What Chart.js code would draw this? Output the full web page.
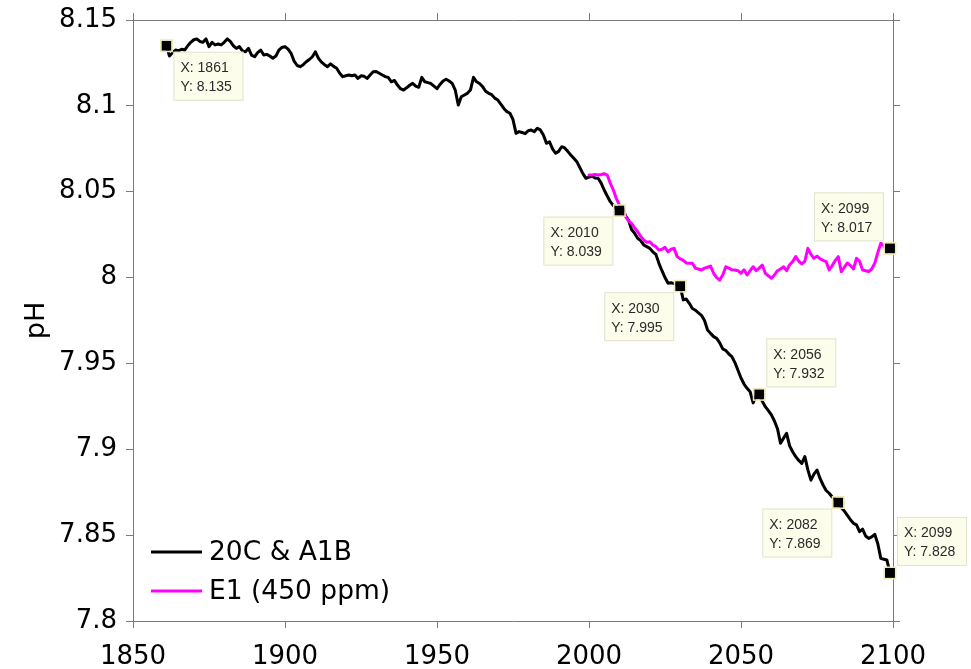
<!DOCTYPE html>
<html>
<head>
<meta charset="utf-8">
<script src="https://cdn.jsdelivr.net/npm/chart.js@4/dist/chart.umd.min.js"></script>
<style>
  html, body { margin: 0; padding: 0; background: #ffffff; }
  canvas { display: block; }
</style>
</head>
<body>
<canvas id="c" width="971" height="669"></canvas>
<script>
// Annual surface-ocean pH: 20th-century run continued with the A1B scenario
const startYear20C = 1861;
const ph20C = [
  8.135, 8.129, 8.131, 8.1325, 8.132, 8.133, 8.1325, 8.135, 8.137, 8.1385,
  8.139, 8.1375, 8.137, 8.139, 8.1345, 8.137, 8.1355, 8.136, 8.1355, 8.137,
  8.139, 8.1375, 8.135, 8.1335, 8.1345, 8.132, 8.1315, 8.1335, 8.1295, 8.1286,
  8.131, 8.1325, 8.1296, 8.130, 8.129, 8.1277, 8.129, 8.1325, 8.134, 8.1345,
  8.133, 8.1306, 8.126, 8.1235, 8.1228, 8.124, 8.1257, 8.127, 8.1286, 8.1315,
  8.1277, 8.1255, 8.124, 8.1228, 8.1245, 8.123, 8.1219, 8.119, 8.117, 8.1175,
  8.118, 8.1175, 8.118, 8.116, 8.1175, 8.1172, 8.116, 8.118, 8.1199, 8.120,
  8.119, 8.118, 8.117, 8.1165, 8.114, 8.1148, 8.1121, 8.110, 8.1092, 8.1105,
  8.112, 8.1131, 8.1115, 8.1108, 8.1166, 8.114, 8.1135, 8.113, 8.1115, 8.110,
  8.1125, 8.1145, 8.1155, 8.1145, 8.1131, 8.1092, 8.1005, 8.1053, 8.1063, 8.1073,
  8.1092, 8.1166, 8.114, 8.113, 8.1112, 8.1085, 8.1073, 8.1065, 8.1045, 8.1034,
  8.101, 8.0985, 8.0966, 8.0957, 8.092, 8.084, 8.085, 8.0845, 8.0838, 8.0855,
  8.0859, 8.085, 8.0869, 8.086, 8.083, 8.0782, 8.0791, 8.075, 8.0724, 8.0735,
  8.0762, 8.0755, 8.0735, 8.0714, 8.0695, 8.0675, 8.064, 8.0605, 8.0578, 8.0585,
  8.059, 8.058, 8.0578, 8.055, 8.051, 8.0475, 8.0442, 8.042, 8.040, 8.039,
  8.0413, 8.036, 8.0335, 8.028, 8.0258, 8.0229, 8.0215, 8.019, 8.018, 8.017,
  8.015, 8.0135, 8.0083, 8.004, 8.000, 7.9967, 7.997, 7.9965, 7.9958, 7.995,
  7.987, 7.9875, 7.985, 7.982, 7.981, 7.9795, 7.978, 7.975, 7.9695, 7.9675,
  7.9656, 7.9646, 7.962, 7.9585, 7.9575, 7.9555, 7.954, 7.9505, 7.946, 7.9415,
  7.938, 7.9355, 7.9335, 7.927, 7.9315, 7.932, 7.928, 7.9248, 7.9225, 7.920,
  7.9165, 7.912, 7.9035, 7.9065, 7.9093, 7.902, 7.8986, 7.8957, 7.8935, 7.8918,
  7.8957, 7.888, 7.882, 7.8855, 7.8879, 7.883, 7.8792, 7.876, 7.8744, 7.8722,
  7.8705, 7.869, 7.866, 7.864, 7.8615, 7.859, 7.8569, 7.856, 7.852, 7.8535,
  7.8495, 7.8481, 7.849, 7.8505, 7.845, 7.8365, 7.836, 7.8355, 7.828
];

// Stabilisation experiment E1 (450 ppm), branching off in 2000
const startYearE1 = 2000;
const phE1 = [
  8.0597, 8.0597, 8.060, 8.0597, 8.060, 8.0605, 8.0597, 8.055, 8.051, 8.046,
  8.0423, 8.039, 8.0355, 8.033, 8.0316, 8.029, 8.0267, 8.024, 8.0219, 8.0205,
  8.0209, 8.019, 8.018, 8.016, 8.0165, 8.0176, 8.015, 8.0165, 8.017, 8.0122,
  8.011, 8.010, 8.0085, 8.0083, 8.0083, 8.0054, 8.005, 8.0044, 8.0055, 8.006,
  8.0067, 8.0025, 8.000, 7.9986, 8.0015, 8.0063, 8.0055, 8.0045, 8.0044, 8.004,
  8.0025, 8.0045, 8.0015, 8.004, 8.0063, 8.004, 8.0055, 8.0073, 8.0025, 8.001,
  7.9996, 8.0015, 8.004, 8.005, 8.0063, 8.004, 8.0075, 8.0093, 8.0122, 8.0095,
  8.008, 8.0095, 8.017, 8.0135, 8.0112, 8.0125, 8.011, 8.010, 8.0093, 8.0044,
  8.007, 8.010, 8.0122, 8.0034, 8.006, 8.0085, 8.007, 8.005, 8.0112, 8.0095,
  8.0044, 8.004, 8.0035, 8.005, 8.0083, 8.0145, 8.020, 8.0185, 8.015, 8.017
];

const seriesNames = ['20C & A1B', 'E1 (450 ppm)'];
const seriesColors = ['#000000', '#ff00ff'];

const xTicks = [1850, 1900, 1950, 2000, 2050, 2100];
const yTicks = [7.8, 7.85, 7.9, 7.95, 8.0, 8.05, 8.1, 8.15];
const yTickLabels = ['7.8', '7.85', '7.9', '7.95', '8', '8.05', '8.1', '8.15'];

// Data tips: series index, year, and where the box sits relative to its marker
const tipSeries = [0, 0, 0, 0, 1, 0, 0];
const tipYears  = [1861, 2010, 2030, 2056, 2099, 2082, 2099];
const tipSide   = ['br', 'bl', 'bl', 'tr', 'tl', 'bl', 'tr'];

const seriesValues = [ph20C, phE1];
const seriesStart = [startYear20C, startYearE1];

function toPoints(values, start) {
  return values.map((v, i) => ({ x: start + i, y: v }));
}

const AXIS_GREY = '#7a7a7a';
const TICK_FONT = { family: 'DejaVu Sans', size: 26 };

const frameAxis = (extra) => Object.assign({
  type: 'linear',
  grid: { drawOnChartArea: false, drawTicks: true, tickLength: 7, color: AXIS_GREY, lineWidth: 1 },
  border: { display: true, color: AXIS_GREY, width: 1 }
}, extra);

// fixed axis boxes so the plot frame stays put regardless of label overhang
function fixBox(size) {
  return s => {
    if (s.isHorizontal()) s.height = size; else s.width = size;
    s.paddingTop = 0; s.paddingBottom = 0; s.paddingLeft = 0; s.paddingRight = 0;
  };
}

// Legend, data-tip markers and data-tip boxes
const overlay = {
  id: 'overlay',
  afterDraw(chart) {
    const ctx = chart.ctx;
    const xs = chart.scales.x, ys = chart.scales.y;

    // data tips
    tipYears.forEach((yr, k) => {
      const s = tipSeries[k];
      const val = seriesValues[s][yr - seriesStart[s]];
      const mx = xs.getPixelForValue(yr);
      const my = ys.getPixelForValue(val);

      ctx.save();
      ctx.fillStyle = '#000000';
      ctx.strokeStyle = '#efe9b8';
      ctx.lineWidth = 1.5;
      ctx.fillRect(mx - 5, my - 5, 10, 10);
      ctx.strokeRect(mx - 5.75, my - 5.75, 11.5, 11.5);

      const w = 70, h = 49;
      const side = tipSide[k];
      const bx = side[1] === 'r' ? mx + 7 : mx - 6 - w;
      const by = side[0] === 'b' ? my + 6 : my - 7 - h;
      ctx.fillStyle = '#fdfdec';
      ctx.fillRect(bx, by, w, h);
      ctx.strokeStyle = '#e2e2cf';
      ctx.lineWidth = 1;
      ctx.strokeRect(bx + 0.5, by + 0.5, w - 1, h - 1);

      ctx.fillStyle = '#2a2a2a';
      ctx.font = '14px "Liberation Sans", Arial, sans-serif';
      ctx.textBaseline = 'middle';
      ctx.textAlign = 'left';
      ctx.fillText('X: ' + yr, bx + 7, by + 16.5);
      ctx.fillText('Y: ' + val.toFixed(3), bx + 7, by + 35.5);
      ctx.restore();
    });

    // legend in the lower-left corner of the plot
    ctx.save();
    ctx.font = '26.5px "DejaVu Sans", sans-serif';
    ctx.textBaseline = 'middle';
    ctx.textAlign = 'left';
    const lx = chart.chartArea.left + 18;
    const ly0 = chart.chartArea.bottom - 69;
    seriesNames.forEach((name, i) => {
      const ly = ly0 + i * 39;
      ctx.strokeStyle = seriesColors[i];
      ctx.lineWidth = 3;
      ctx.beginPath();
      ctx.moveTo(lx, ly);
      ctx.lineTo(lx + 51, ly);
      ctx.stroke();
      ctx.fillStyle = '#000000';
      ctx.fillText(name, lx + 58, ly + 1);
    });
    ctx.restore();
  }
};

new Chart(document.getElementById('c'), {
  type: 'line',
  data: {
    datasets: [
      {
        label: seriesNames[0],
        data: toPoints(ph20C, startYear20C),
        borderColor: seriesColors[0],
        borderWidth: 3,
        pointRadius: 0,
        tension: 0,
        borderJoinStyle: 'round',
        borderCapStyle: 'round',
        order: 2
      },
      {
        label: seriesNames[1],
        data: toPoints(phE1, startYearE1),
        borderColor: seriesColors[1],
        borderWidth: 3,
        pointRadius: 0,
        tension: 0,
        borderJoinStyle: 'round',
        borderCapStyle: 'round',
        order: 1
      }
    ]
  },
  options: {
    responsive: false,
    animation: false,
    events: [],
    layout: { padding: 0 },
    plugins: { legend: { display: false }, tooltip: { enabled: false } },
    scales: {
      x: frameAxis({
        position: 'bottom',
        min: 1850, max: 2100,
        afterBuildTicks: s => { s.ticks = xTicks.map(v => ({ value: v })); },
        afterFit: fixBox(48),
        ticks: { color: '#000000', font: TICK_FONT, padding: 14, maxRotation: 0, autoSkip: false,
                 callback: v => String(v) }
      }),
      x2: frameAxis({
        position: 'top',
        min: 1850, max: 2100,
        afterBuildTicks: s => { s.ticks = xTicks.map(v => ({ value: v })); },
        afterFit: fixBox(20),
        ticks: { display: false }
      }),
      y: frameAxis({
        position: 'left',
        min: 7.8, max: 8.15,
        afterBuildTicks: s => { s.ticks = yTicks.map(v => ({ value: v })); },
        afterFit: fixBox(133),
        ticks: { color: '#000000', font: TICK_FONT, padding: 9, autoSkip: false,
                 callback: (v, i) => yTickLabels[i] },
        title: { display: true, text: 'pH', color: '#000000',
                 font: { family: 'DejaVu Sans', size: 27 }, padding: { top: 21, bottom: 0 } }
      }),
      y2: frameAxis({
        position: 'right',
        min: 7.8, max: 8.15,
        afterBuildTicks: s => { s.ticks = yTicks.map(v => ({ value: v })); },
        afterFit: fixBox(78),
        ticks: { display: false }
      })
    }
  },
  plugins: [overlay]
});
</script>
</body>
</html>
